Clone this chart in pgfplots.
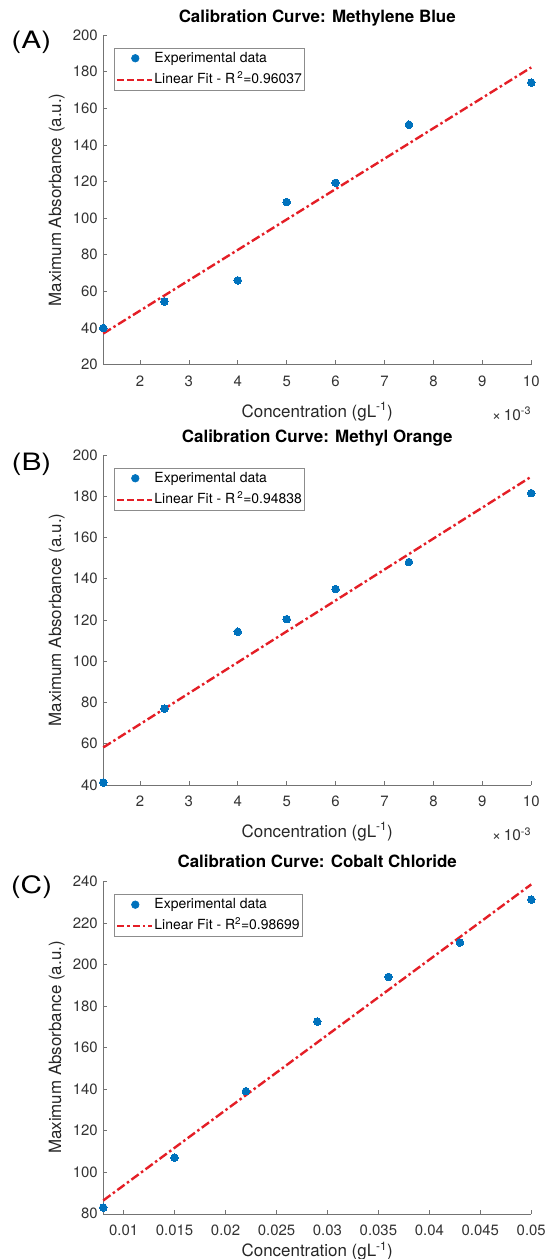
\documentclass[border=0pt]{standalone}
\usepackage{fontspec}
\setmainfont{TeX Gyre Heros}
\usepackage{pgfplots}
\pgfplotsset{compat=1.18}

\definecolor{mblue}{RGB}{0,114,189}
\definecolor{fitred}{RGB}{228,30,38}

\pgfplotsset{
  calib/.style={
    scale only axis, width=428bp, anchor=south west,
    axis lines*=left, tick align=inside, major tick length=4.2bp,
    axis line style={black!55, line width=0.6bp},
    every tick/.style={black!55, line width=0.6bp},
    clip=false,
    /pgf/number format/assume math mode=true,
    tick label style={font=\fontsize{15}{18}\selectfont, text=black!80},
    yticklabel style={xshift=-2bp},
    xticklabel style={yshift=-7.5bp},
    label style={font=\fontsize{17}{20}\selectfont, text=black!85},
    ylabel={Maximum Absorbance (a.u.)},
    xlabel={Concentration (gL\textsuperscript{-1})},
    ylabel style={at={(axis description cs:-0.1084,0.5)}, anchor=center},
    title style={at={(axis description cs:0.5,1)}, anchor=base,
      font=\bfseries\fontsize{17}{20}\selectfont},
    legend style={at={(axis description cs:0.0258,0.962)}, anchor=north west,
      draw=black!45, line width=0.6bp, font=\fontsize{14}{16}\selectfont,
      inner xsep=1.5bp, inner ysep=2.7bp, row sep=6bp,
      nodes={inner sep=1bp, text height=10.5bp, text depth=3bp},
      /tikz/every even column/.append style={column sep=0bp}},
    legend cell align=left,
  },
  thousandths/.style={
    xmin=0.00125, xmax=0.01,
    xtick={0.002,0.003,0.004,0.005,0.006,0.007,0.008,0.009,0.01},
    scaled x ticks=base 10:3,
    xtick scale label code/.code={×\,10\textsuperscript{-3}},
    every x tick scale label/.style={at={(axis description cs:1,0)},
      anchor=base east, yshift=-48bp, inner sep=0pt,
      font=\fontsize{15.5}{18}\selectfont, text=black!80},
  },
  datamarks/.style={only marks, mark=*, mark size=3.8bp,
    mark options={fill=mblue, draw=mblue, line width=0pt}},
  fitline/.style={fitred, line width=2.4bp,
    dash pattern=on 9bp off 3bp on 2.5bp off 3bp},
}

\begin{document}
\begin{tikzpicture}
\path[use as bounding box] (0,0) rectangle (546bp,1259bp);

% (A) methylene blue
\begin{axis}[calib, thousandths, at={(103.25bp,894.3bp)}, height=329.7bp,
    ymin=20, ymax=200, ytick={20,40,60,80,100,120,140,160,180,200},
    title={Calibration Curve: Methylene Blue}, title style={yshift=6.8bp},
    xlabel style={at={(axis description cs:0.5,0)}, anchor=base, yshift=-52.5bp}]
  \addplot[datamarks, legend image code/.code={
      \path[draw=none] (0bp,0bp) -- (35bp,0bp);
      \fill[mblue] (18bp,0bp) circle[radius=3.8bp];}] coordinates {
    (0.00125,40) (0.0025,54.5) (0.004,66) (0.005,108.8)
    (0.006,119.3) (0.0075,151) (0.01,174)};
  \addlegendentry{Experimental data}
  \addplot[fitline, legend image code/.code={
      \draw[fitred, line width=2.4bp, dash pattern=on 7bp off 3bp]
      (0bp,0bp) -- (35bp,0bp);}] coordinates {(0.00125,37) (0.01,182.3)};
  \addlegendentry{Linear Fit - R\,\textsuperscript{2}=0.96037}
\end{axis}

% (B) methyl orange
\begin{axis}[calib, thousandths, at={(103.25bp,474bp)}, height=330bp,
    ymin=40, ymax=200, ytick={40,60,80,100,120,140,160,180,200},
    title={Calibration Curve: Methyl Orange}, title style={yshift=6.6bp},
    xlabel style={at={(axis description cs:0.5,0)}, anchor=base, yshift=-52.2bp}]
  \addplot[datamarks, legend image code/.code={
      \path[draw=none] (0bp,0bp) -- (35bp,0bp);
      \fill[mblue] (18bp,0bp) circle[radius=3.8bp];}] coordinates {
    (0.00125,41.2) (0.0025,77) (0.004,114.3) (0.005,120.4)
    (0.006,135) (0.0075,148.1) (0.01,181.5)};
  \addlegendentry{Experimental data}
  \addplot[fitline, legend image code/.code={
      \draw[fitred, line width=2.4bp, dash pattern=on 7bp off 3bp]
      (0bp,0bp) -- (35bp,0bp);}] coordinates {(0.00125,58.2) (0.01,189.5)};
  \addlegendentry{Linear Fit - R\,\textsuperscript{2}=0.94838}
\end{axis}

% (C) cobalt chloride
\begin{axis}[calib, at={(103.25bp,45.2bp)}, height=332.5bp,
    xmin=0.008, xmax=0.05,
    xtick={0.01,0.015,0.02,0.025,0.03,0.035,0.04,0.045,0.05},
    scaled x ticks=false,
    xticklabel style={/pgf/number format/fixed, /pgf/number format/precision=3},
    ymin=80, ymax=240, ytick={80,100,120,140,160,180,200,220,240},
    title={Calibration Curve: Cobalt Chloride}, title style={yshift=8bp},
    xlabel style={at={(axis description cs:0.5,0)}, anchor=base, yshift=-42.7bp}]
  \addplot[datamarks, legend image code/.code={
      \path[draw=none] (0bp,0bp) -- (35bp,0bp);
      \fill[mblue] (18bp,0bp) circle[radius=3.8bp];}] coordinates {
    (0.008,83) (0.015,107) (0.022,139) (0.029,172.5)
    (0.036,194) (0.043,210.5) (0.05,231.2)};
  \addlegendentry{Experimental data}
  \addplot[fitline, legend image code/.code={
      \draw[fitred, line width=2.4bp, dash pattern=on 7bp off 3bp on 2.5bp off 3bp]
      (0bp,0bp) -- (35bp,0bp);}] coordinates {(0.008,86.4) (0.05,238.5)};
  \addlegendentry{Linear Fit - R\textsuperscript{2}=0.98699}
\end{axis}

\node[font=\fontsize{24}{28}\selectfont] at (31.3bp,1216.5bp) {\scalebox{1.25}[1]{(A)}};
\node[font=\fontsize{24}{28}\selectfont] at (31.5bp,794.4bp) {\scalebox{1.25}[1]{(B)}};
\node[font=\fontsize{24}{28}\selectfont] at (31.5bp,371.8bp) {\scalebox{1.25}[1]{(C)}};
\end{tikzpicture}
\end{document}
